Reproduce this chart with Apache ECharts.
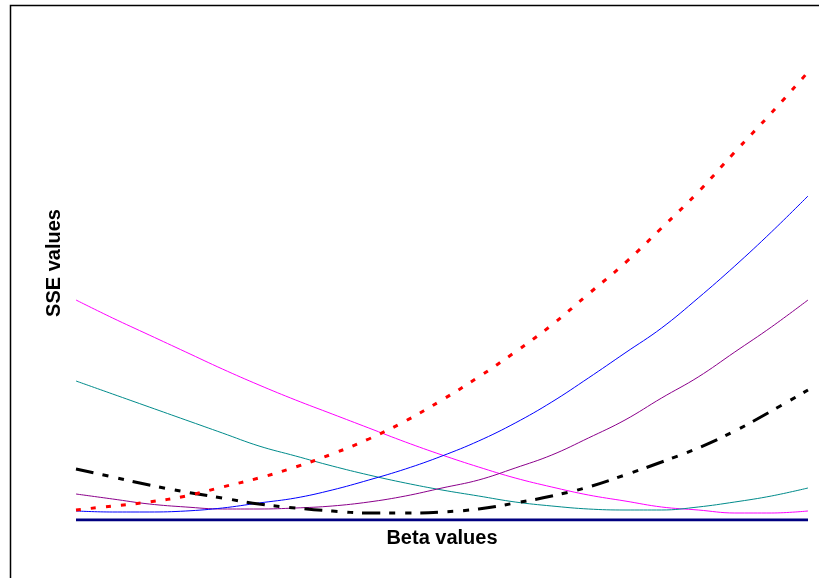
<!DOCTYPE html>
<html>
<head>
<meta charset="utf-8">
<script src="https://cdn.jsdelivr.net/npm/echarts@6/dist/echarts.min.js"></script>
<style>
html,body{margin:0;padding:0;background:#fff;}
#chart{width:819px;height:578px;}
</style>
</head>
<body>
<div id="chart"></div>
<script>
var betas = [0, 0.05, 0.1, 0.15, 0.2, 0.25, 0.3, 0.35, 0.4, 0.45, 0.5, 0.55, 0.6, 0.65, 0.7, 0.75, 0.8, 0.85, 0.9, 0.95, 1];
var sseRed     = [10, 14, 18, 24, 33, 42, 53, 66, 81, 99, 120, 143, 168, 195, 226, 257, 292, 328, 368, 407, 448];
var sseBlue    = [9, 8, 8, 9, 12, 17, 22, 30, 40, 51, 64, 79, 97, 118, 142, 167, 192, 222, 254, 288, 324];
var ssePurple  = [26, 21, 16, 13, 11, 11, 12, 14, 18, 24, 32, 40, 52, 65, 82, 100, 122, 143, 168, 193, 220];
var sseBlack   = [51, 43, 35, 28, 22, 16, 12, 9, 7, 7, 8, 11, 17, 24, 33, 45, 58, 72, 89, 109, 130];
var sseTeal    = [139, 126, 113, 100, 87, 74, 64, 54, 45, 37, 30, 24, 18, 14, 11, 10, 10, 13, 18, 24, 32];
var sseMagenta = [220, 202, 185, 168, 151, 135, 120, 106, 92, 78, 65, 53, 42, 33, 25, 19, 13, 10, 7, 7, 9];
var sseBase    = [0, 0, 0, 0, 0, 0, 0, 0, 0, 0, 0, 0, 0, 0, 0, 0, 0, 0, 0, 0, 0];

function pts(vals){ return betas.map(function(b,i){ return [b, vals[i]]; }); }
function line(name, vals, color, width, type){
  return {name:name, type:'line', data:pts(vals), symbol:'none', silent:true, smooth:0.4,
    lineStyle:{color:color, width:width, type:type||'solid', cap:'butt'}, animation:false};
}

var font = 'Liberation Sans, Arial, sans-serif';
var chart = echarts.init(document.getElementById('chart'), null, {renderer:'canvas'});
chart.setOption({
  backgroundColor:'#ffffff',
  animation:false,
  grid:{left:76, right:11, top:20, bottom:58},
  xAxis:{type:'value', min:0, max:1, name:'Beta values', nameLocation:'middle', nameGap:8,
    nameTextStyle:{fontFamily:font, fontWeight:'bold', fontSize:20, color:'#000'},
    axisLine:{show:false}, axisTick:{show:false}, axisLabel:{show:false}, splitLine:{show:false}},
  yAxis:{type:'value', min:0, max:500,
    axisLine:{show:false}, axisTick:{show:false}, axisLabel:{show:false}, splitLine:{show:false}},
  graphic:[
    {type:'rect', silent:true, shape:{x:10.5, y:5.5, width:900, height:700},
      style:{fill:'none', stroke:'#000', lineWidth:1.5}},
    {type:'text', silent:true, x:54, y:263, rotation:Math.PI/2,
      style:{text:'SSE values', font:'bold 20px ' + font, fill:'#000', align:'center', verticalAlign:'middle'}}
  ],
  series:[
    line('magenta', sseMagenta, '#ff00ff', 1),
    line('teal', sseTeal, '#008b8b', 1),
    line('purple', ssePurple, '#8b008b', 1),
    line('blue', sseBlue, '#0000ff', 1),
    line('black', sseBlack, '#000000', 3, [18, 9, 6, 10, 6, 9]),
    line('red', sseRed, '#ff0000', 3, [5, 10]),
    line('base', sseBase, '#000080', 3)
  ]
});
</script>
</body>
</html>
